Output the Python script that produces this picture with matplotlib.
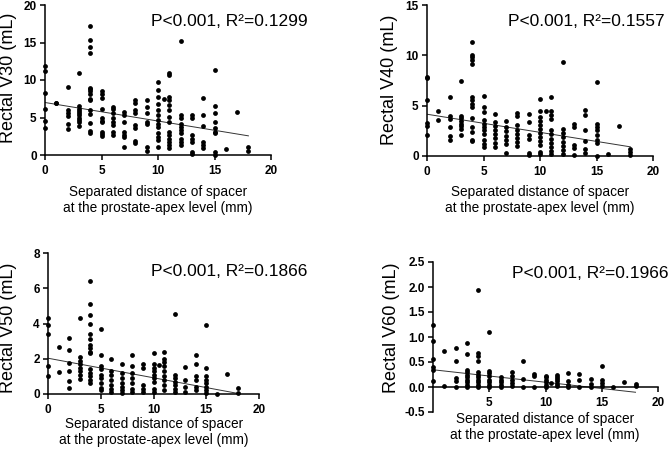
import matplotlib
matplotlib.use("Agg")
import matplotlib.pyplot as plt
import numpy as np

plt.rcParams['font.family'] = ['Liberation Sans', 'DejaVu Sans']

# ---- data: y values per x column (mm) ----
v30 = {0: [11.9, 11.2, 8.3, 6.1, 4.5, 3.6],
       1: [7.0, 6.9],
       2: [9.1, 6.0, 5.6, 5.2, 4.2, 3.5],
       3: [10.9, 6.6, 6.2, 5.9, 5.6, 5.3, 5.0, 4.7, 4.4, 3.9],
       4: [17.2, 15.3, 14.4, 13.6, 9.0, 8.8, 8.5, 8.2, 7.5, 7.3, 6.0, 5.5, 4.3, 3.2, 2.9],
       5: [8.5, 8.2, 7.6, 6.2, 4.9, 4.6, 4.4, 3.1, 2.8, 2.5],
       6: [6.4, 6.1, 5.6, 4.9, 4.4, 4.0, 3.1, 2.7],
       7: [5.8, 5.4, 4.4, 3.1, 2.7, 2.4, 1.1],
       8: [7.3, 6.9, 6.0, 5.6, 4.0, 3.6, 1.9, 1.6],
       9: [7.3, 6.4, 5.6, 4.4, 4.2, 1.1, 0.6],
       10: [9.8, 8.7, 7.8, 6.8, 6.0, 5.3, 4.7, 4.2, 3.8, 2.9, 2.4, 2.0, 1.1],
       10.5: [7.5],
       11: [10.9, 10.7, 7.8, 7.4, 6.7, 6.0, 5.1, 4.4, 3.1, 2.7, 2.2, 1.8, 1.3, 0.9],
       12: [15.2, 5.3, 4.9, 4.2, 3.8, 3.3, 2.9, 2.2, 1.8, 1.3],
       13: [5.3, 4.9, 2.7, 2.2, 1.8, 0.4, 0.2],
       14: [7.6, 5.3, 3.9, 1.8, 1.3, 0.9],
       15: [11.4, 6.5, 5.6, 4.4, 3.6, 3.1, 2.9, 0.4, 0.0],
       16: [0.8],
       17: [5.8],
       18: [1.1, 0.6]}

v40 = {0: [7.8, 7.7, 5.6, 3.3, 3.0, 2.1],
       1: [4.5, 3.6],
       2: [5.9, 4.0, 3.7, 2.9, 2.0, 1.6],
       3: [7.5, 4.0, 3.8, 3.5, 3.2, 3.0, 2.7, 2.1],
       4: [11.3, 10.0, 9.8, 9.5, 9.1, 5.9, 5.6, 5.2, 4.9, 3.8, 2.9, 2.4, 1.6, 1.5],
       5: [6.0, 4.9, 4.4, 3.6, 3.2, 2.9, 2.6, 2.2, 1.6, 1.2, 0.9],
       6: [4.2, 3.4, 3.0, 2.6, 2.2, 1.8, 1.3, 0.9],
       7: [3.5, 2.9, 2.5, 2.0, 1.6, 1.2, 0.3],
       8: [4.3, 4.0, 3.1, 2.6, 2.2, 1.8, 1.4, 1.0],
       9: [4.2, 3.4, 2.1, 1.7, 0.3, 0.1],
       10: [5.7, 4.5, 3.9, 3.5, 3.1, 2.7, 2.3, 1.9, 1.5, 1.1, 0.4, 0.2],
       10.5: [4.5],
       11: [5.9, 4.5, 4.1, 3.7, 2.6, 2.2, 1.7, 1.3, 0.9, 0.5, 0.2],
       12: [9.3, 2.7, 2.3, 1.9, 1.4, 1.0, 0.6, 0.2],
       13: [3.2, 2.9, 1.1, 0.8, 0.1],
       14: [4.6, 4.1, 2.6, 1.5, 0.7, 0.3],
       15: [7.4, 3.2, 2.9, 2.6, 2.1, 1.6, 1.3, 0.0],
       16: [0.2],
       17: [3.0],
       18: [0.7, 0.4, 0.1]}

v50 = {0: [4.3, 3.9, 3.4, 1.6, 1.0],
       1: [2.65, 1.25],
       2: [3.2, 2.5, 1.75, 1.3, 0.75, 0.35],
       3: [4.3, 2.1, 1.9, 1.7, 1.5, 1.3, 1.1, 0.85],
       4: [6.4, 5.1, 4.5, 4.0, 3.4, 3.1, 2.8, 2.6, 2.4, 2.3, 1.4, 1.2, 1.0, 0.8, 0.6],
       5: [3.7, 2.2, 1.6, 1.4, 1.1, 0.9, 0.6, 0.35, 0.2],
       6: [2.0, 1.3, 1.1, 0.8, 0.5, 0.3, 0.1],
       7: [1.7, 1.2, 0.9, 0.6, 0.4, 0.2, 0.05],
       8: [2.2, 1.6, 1.2, 0.9, 0.6, 0.3, 0.1],
       9: [1.7, 1.5, 0.5, 0.3, 0.1],
       10: [2.3, 1.7, 1.5, 1.3, 1.1, 0.9, 0.7, 0.3, 0.1],
       10.5: [1.65],
       11: [2.4, 2.0, 1.8, 1.6, 1.3, 1.0, 0.8, 0.5, 0.2],
       12: [4.55, 1.1, 0.9, 0.7, 0.5, 0.3, 0.1],
       13: [1.55, 0.8, 0.4, 0.1],
       14: [2.2, 1.7, 1.0, 0.8, 0.4, 0.2],
       15: [3.9, 1.5, 1.0, 0.8, 0.6, 0.4, 0.2, 0.05],
       16: [0.0],
       17: [1.15],
       18: [0.35, 0.05]}

v60 = {0: [1.25, 0.92, 0.56, 0.41, 0.35, 0.13],
       1: [0.72, 0.03],
       2: [0.78, 0.52, 0.18, 0.12, 0.0],
       3: [0.89, 0.67, 0.35, 0.30, 0.25, 0.20, 0.15, 0.10, 0.05, 0.0],
       4: [1.94, 0.69, 0.63, 0.52, 0.30, 0.25, 0.20, 0.15, 0.10, 0.05, 0.0],
       5: [1.11, 0.33, 0.28, 0.22, 0.15, 0.10, 0.05, 0.0],
       6: [0.20, 0.15, 0.10, 0.05, 0.0],
       7: [0.30, 0.22, 0.15, 0.08, 0.02],
       8: [0.52, 0.16, 0.0],
       9: [0.26, 0.22, 0.0],
       10: [0.23, 0.20, 0.15, 0.10, 0.05, 0.0],
       10.5: [0.08],
       11: [0.24, 0.20, 0.16, 0.12, 0.07, 0.03],
       12: [0.28, 0.12, 0.05, 0.0],
       13: [0.27, 0.15, 0.0],
       14: [0.17, 0.06, 0.0],
       15: [0.43, 0.14, 0.08, 0.02],
       16: [0.0],
       17: [0.10],
       18: [0.06, 0.02]}

# regression lines: (intercept, slope)
fit_v30 = (7.0, -0.247)
fit_v40 = (4.15, -0.180)
fit_v50 = (2.03, -0.111)
fit_v60 = (0.345, -0.025)

ylabels = ["Rectal V30 (mL)", "Rectal V40 (mL)", "Rectal V50 (mL)", "Rectal V60 (mL)"]
stats = ["P<0.001, R²=0.1299", "P<0.001, R²=0.1557", "P<0.001, R²=0.1866", "P<0.001, R²=0.1966"]
yticks_list = [[0, 5, 10, 15, 20], [0, 5, 10, 15], [0, 2, 4, 6, 8],
               [-0.5, 0.0, 0.5, 1.0, 1.5, 2.0, 2.5]]
xticks = [0, 5, 10, 15, 20]
xlabel = "Separated distance of spacer\nat the prostate-apex level (mm)"

W, H = 669, 449
fig = plt.figure(figsize=(W / 100, H / 100), dpi=100)


def px_axes(l, r, t, b):
    return fig.add_axes([l / W, 1 - b / H, (r - l) / W, (b - t) / H])


# layout in pixels
boxes = [(45, 271, 5, 155), (427, 653, 5, 156), (48, 259, 253, 394), (433, 658, 262, 412)]
ylab_pos = [(9, 78), (389, 80), (9, 328), (391, 328)]
stat_pos = [(229, 22), (586, 22), (229, 272), (590, 273)]
xlab_pos = [(158, 200), (540, 200), (154, 432), (545, 427)]

datasets = [v30, v40, v50, v60]
fits = [fit_v30, fit_v40, fit_v50, fit_v60]

for i in range(4):
    ax = px_axes(*boxes[i])
    d = datasets[i]
    xs, ys = [], []
    for k, vals in d.items():
        xs += [k] * len(vals)
        ys += vals
    ax.scatter(xs, ys, s=12, color='black', zorder=3, clip_on=False, linewidths=0)
    b0, b1 = fits[i]
    lx = np.array([0, 18])
    ax.plot(lx, b0 + b1 * lx, color='#333333', lw=0.7, zorder=2)

    yt = yticks_list[i]
    ax.set_xlim(0, 20)
    ax.set_ylim(yt[0], yt[-1])
    ax.set_yticks(yt)
    for s in ['top', 'right']:
        ax.spines[s].set_visible(False)
    for s in ['left', 'bottom']:
        ax.spines[s].set_linewidth(1.1)
    if i == 3:
        ax.spines['bottom'].set_position(('data', 0))
        ax.set_xticks(xticks[1:])
        ax.set_yticklabels([f"{v:.1f}" for v in yt])
    else:
        ax.set_xticks(xticks)
    ax.tick_params(direction='out', length=3.5, width=1.1, labelsize=8.5, pad=2.5)
    ax.tick_params(axis='x', pad=4)
    for lab in ax.get_xticklabels() + ax.get_yticklabels():
        lab.set_fontweight('bold')
    fig.text(xlab_pos[i][0] / W, 1 - xlab_pos[i][1] / H, xlabel,
             ha='center', va='center', fontsize=9.8, linespacing=1.1,
             multialignment='center')
    fig.text(ylab_pos[i][0] / W, 1 - ylab_pos[i][1] / H, ylabels[i], rotation=90,
             ha='center', va='center', fontsize=13)
    fig.text(stat_pos[i][0] / W, 1 - stat_pos[i][1] / H, stats[i],
             ha='center', va='center', fontsize=12.5)

fig.savefig("out.png", dpi=100)
